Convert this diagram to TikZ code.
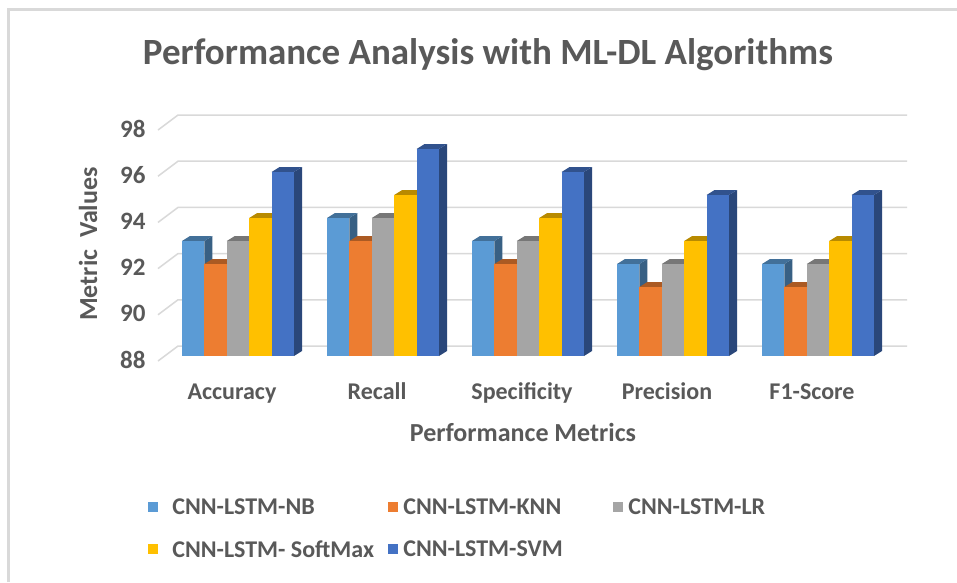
\documentclass[tikz,border=0pt]{standalone}
\usepackage{fontspec}
\setmainfont{Carlito}
\usetikzlibrary{positioning}
\definecolor{nbblue}{HTML}{5B9BD5}
\definecolor{knnorange}{HTML}{ED7D31}
\definecolor{lrgray}{HTML}{A5A5A5}
\definecolor{smgold}{HTML}{FFC000}
\definecolor{svmblue}{HTML}{4472C4}
\definecolor{txtgray}{HTML}{595959}
\definecolor{gridgray}{HTML}{D9D9D9}

\begin{document}
\begin{tikzpicture}[x=1pt, y=-1pt,
  ticklbl/.style={font=\fontsize{25}{28}\selectfont\bfseries, text=txtgray, anchor=east},
  catlbl/.style={font=\fontsize{24}{28}\selectfont\bfseries, text=txtgray, anchor=base},
  axlbl/.style={font=\fontsize{26}{30}\selectfont\bfseries, text=txtgray},
  legbox/.style={minimum size=10pt, inner sep=0pt},
  legtxt/.style={font=\fontsize{24}{28}\selectfont\bfseries, text=txtgray, anchor=west, inner sep=0pt},
]

% Dimensions (1pt per pixel, y pointing down)
\pgfmathsetmacro{\basey}{356}     % bottom of the bar fronts
\pgfmathsetmacro{\unit}{23}       % height of one metric point
\pgfmathsetmacro{\barw}{22.4}     % bar width
\pgfmathsetmacro{\dx}{8}          % depth offset, x
\pgfmathsetmacro{\dy}{5}          % depth offset, y
\pgfmathsetmacro{\grpstep}{145}   % distance between categories

\useasboundingbox (0,0) rectangle (957,582);
\fill[white] (0,0) rectangle (957,582);

% Chart frame (cut off at right and bottom)
\draw[gridgray, line width=3pt] (8,582) -- (8,9) -- (957,9);

% Title
\node[font=\fontsize{37}{42}\selectfont\bfseries, text=txtgray] (title) at (488,55)
  {Performance Analysis with ML-DL Algorithms};

% --- Gridlines on floor and back wall, tick labels ---
\foreach \v in {88,90,...,98} {
  \pgfmathsetmacro{\gy}{346-(\v-88)*23.1}
  \draw[gridgray, line width=1.5pt] (158,\gy+15) -- (178,\gy) -- (907,\gy);
  \node[ticklbl] (tick\v) at (149,\gy+14) {\v};
}

% --- Bars: one block per metric ---
% order: NB, KNN, LR, SoftMax, SVM
\foreach \vals [count=\g from 0] in {
    {93/nbblue,92/knnorange,93/lrgray,94/smgold,96/svmblue},
    {94/nbblue,93/knnorange,94/lrgray,95/smgold,97/svmblue},
    {93/nbblue,92/knnorange,93/lrgray,94/smgold,96/svmblue},
    {92/nbblue,91/knnorange,92/lrgray,93/smgold,95/svmblue},
    {92/nbblue,91/knnorange,92/lrgray,93/smgold,95/svmblue}} {
  \foreach \v/\c [count=\i from 0] in \vals {
    \pgfmathsetmacro{\bx}{182+\g*\grpstep+\i*\barw}
    \pgfmathsetmacro{\ty}{\basey-(\v-88)*\unit}
    % side face
    \fill[\c!62!black] (\bx+\barw,\ty) -- (\bx+\barw+\dx,\ty-\dy)
      -- (\bx+\barw+\dx,\basey-\dy) -- (\bx+\barw,\basey) -- cycle;
    % top face
    \fill[\c!72!black] (\bx,\ty) -- (\bx+\dx,\ty-\dy)
      -- (\bx+\barw+\dx,\ty-\dy) -- (\bx+\barw,\ty) -- cycle;
    % front face
    \fill[\c] (\bx,\ty) rectangle (\bx+\barw,\basey);
  }
}

% --- Category labels ---
\foreach \name [count=\g from 0] in {Accuracy,Recall,Specificity,Precision,F1-Score}
  \node[catlbl] (cat\g) at (232+\g*\grpstep,399) {\name};

% --- Axis titles ---
\node[axlbl] (xtitle) at (523,432) {Performance Metrics};
\node[axlbl, rotate=90] (ytitle) at (88,244) {Metric\ \ Values};

% --- Legend ---
\node[legbox, fill=nbblue] (sqnb) at (153,507) {};
\node[legtxt, right=14pt of sqnb] (lgnb) {CNN-LSTM-NB};
\node[legbox, fill=knnorange] (sqknn) at (393,507) {};
\node[legtxt, right=5pt of sqknn] (lgknn) {CNN-LSTM-KNN};
\node[legbox, fill=lrgray] (sqlr) at (618,507) {};
\node[legtxt, right=5pt of sqlr] (lglr) {CNN-LSTM-LR};
\node[legbox, fill=smgold] (sqsm) at (153,549) {};
\node[legtxt, right=14pt of sqsm] (lgsm) {CNN-LSTM- SoftMax};
\node[legbox, fill=svmblue] (sqsvm) at (393,549) {};
\node[legtxt, right=5pt of sqsvm] (lgsvm) {CNN-LSTM-SVM};

\end{tikzpicture}
\end{document}
